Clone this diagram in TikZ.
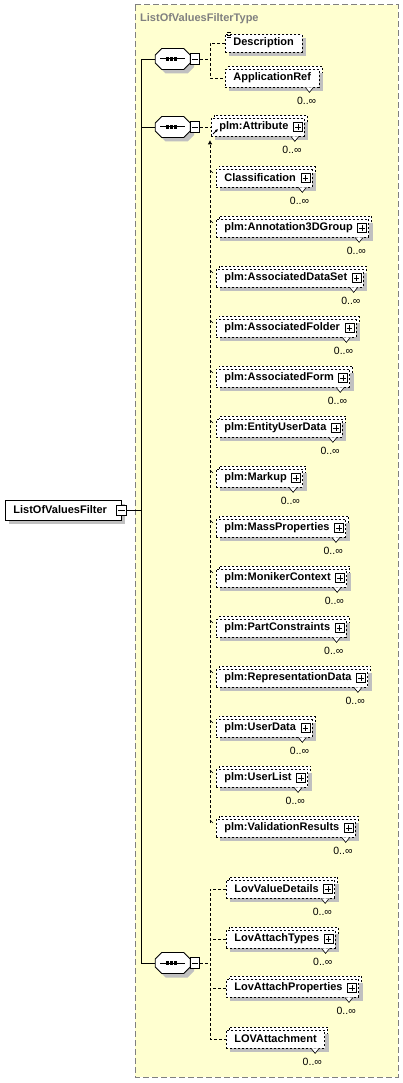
\documentclass[tikz,border=0pt]{standalone}
\usepackage{fontspec}
\setmainfont{Liberation Sans}
\usetikzlibrary{shadows,arrows.meta}
\definecolor{panelfill}{RGB}{255,255,208}
\definecolor{shadegray}{RGB}{192,192,192}
\definecolor{titlegray}{RGB}{128,128,128}
\definecolor{panelline}{RGB}{128,128,128}
\tikzset{
  elemfont/.style={font=\fontsize{11}{13}\selectfont\bfseries},
  shad/.style={drop shadow={shadow xshift=4pt,shadow yshift=-4pt,fill=shadegray,opacity=1,draw=none}},
  multi/.style={copy shadow={shadow xshift=3pt,shadow yshift=3pt}},
  elem/.style={elemfont,draw,fill=white,dash pattern=on 2pt off 2pt,line width=0.8pt,inner xsep=0pt,inner ysep=0pt,minimum height=18pt,anchor=west},
  pbox/.style={draw,solid,fill=white,line width=0.6pt,minimum size=9pt,inner sep=0pt},
  pline/.style={solid,line width=0.6pt},
  notch/.style={solid,line width=0.6pt,fill=white},
  mult/.style={font=\fontsize{10.5}{12}\selectfont,inner sep=0pt,anchor=east},
  conn/.style={dash pattern=on 3pt off 2pt,line width=0.8pt},
  bus/.style={line width=0.9pt},
  tick/.style={line width=0.6pt},
  seqanchor/.style={draw=none,minimum width=35pt,minimum height=21pt,inner sep=0pt,anchor=west},
  minusbox/.style={draw,solid,fill=white,line width=0.6pt,minimum width=9pt,minimum height=11pt,inner sep=0pt,anchor=west},
  panelst/.style={draw=panelline,fill=panelfill,dash pattern=on 6pt off 3pt,line width=1pt},
}
\newcommand\octapath{++(-17.5,-4) -- ++(6.5,-6.5) -- ++(22,0) -- ++(6.5,6.5) -- ++(0,8) -- ++(-6.5,6.5) -- ++(-22,0) -- ++(-6.5,-6.5) -- cycle}
\newcommand\plusof[1]{%
  \node[pbox] (#1p) at ([xshift=-7pt]#1.east) {};
  \draw[pline] ([xshift=2pt]#1p.west) -- ([xshift=-2pt]#1p.east) ([yshift=-2pt]#1p.north) -- ([yshift=2pt]#1p.south);}
\newcommand\multof[1]{%
  \draw[notch] ([xshift=-14pt]#1.south east) -- ([xshift=-10pt,yshift=-5pt]#1.south east) -- ([xshift=-6pt]#1.south east);
  \node[mult] at ([xshift=-3pt,yshift=-13pt]#1.south east) {0..∞};}
\newcommand\subst[3]{%
  \node[elem,multi,shad] (#1) at (216,#2) {\kern8pt#3\kern16pt};
  \plusof{#1}\multof{#1}
  \draw[tick] ([xshift=-6pt,yshift=8pt]#1.west) -- ([xshift=-3pt,yshift=5pt]#1.west);}
\newcommand\seqsym[2]{%
  \node[seqanchor] (#1) at (155,#2) {};
  \fill[shadegray] ([xshift=4pt,yshift=-4pt]#1.center) \octapath;
  \draw[fill=white,line width=0.8pt] (#1.center) \octapath;
  \node[minusbox] (#1m) at (#1.east) {};
  \draw[pline] ([xshift=2pt]#1m.west) -- ([xshift=-2pt]#1m.east);
  \draw[line width=1pt] ([xshift=5pt]#1.west) -- ([xshift=-5pt]#1.east);
  \foreach \dx in {-5,-1,3} \fill ([xshift=\dx pt]#1.center) +(-1.6,-1.6) rectangle +(1.6,1.6);}
\begin{document}
\begin{tikzpicture}[x=1pt,y=-1pt]
\useasboundingbox (0,0) rectangle (403,1083);
\fill[white] (0,0) rectangle (403,1083);
\path[panelst] (135,5) rectangle (398,1077);
\node[anchor=west,elemfont,text=titlegray,inner sep=0pt] (title) at (140,19) {ListOfValuesFilterType};
% root element
\node[elem,solid,shad,minimum height=20pt] (root) at (5,510) {\kern8pt ListOfValuesFilter\kern14pt};
\node[minusbox,anchor=center,minimum width=10pt,minimum height=10pt] (rootm) at (root.east) {};
\draw[pline] ([xshift=2pt]rootm.west) -- ([xshift=-2pt]rootm.east);
% sequences
\seqsym{sa}{59}
\seqsym{sb}{127}
\seqsym{sc}{963}
% sequence 1
\node[elem,shad] (desc) at (225,43) {\kern8pt Description\kern8pt};
\draw[pline] ([xshift=2pt,yshift=1pt]desc.north west) -- ++(4,0) ([xshift=2pt,yshift=-1.5pt]desc.north west) -- ++(4,0) ([xshift=2pt,yshift=-4pt]desc.north west) -- ++(4,0);
\node[elem,multi,shad] (appref) at (225,78) {\kern8pt ApplicationRef\kern8pt};
\multof{appref}
% sequence 2
\node[elem,multi,shad] (attr) at (211,127) {\kern8pt plm:Attribute\kern16pt};
\plusof{attr}\multof{attr}
\draw[solid,line width=0.8pt,-{Latex[length=3pt,width=3pt]}] ([xshift=2pt,yshift=-7pt]attr.west) -- ([xshift=7pt,yshift=-2pt]attr.west);
\subst{cls}{178}{Classification}
\subst{ann}{228}{plm:Annotation3DGroup}
\subst{ads}{278}{plm:AssociatedDataSet}
\subst{afo}{328}{plm:AssociatedFolder}
\subst{afr}{378}{plm:AssociatedForm}
\subst{eud}{428}{plm:EntityUserData}
\subst{mku}{478}{plm:Markup}
\subst{mpr}{528}{plm:MassProperties}
\subst{mon}{578}{plm:MonikerContext}
\subst{pco}{628}{plm:PartConstraints}
\subst{rep}{678}{plm:RepresentationData}
\subst{usd}{728}{plm:UserData}
\subst{usl}{778}{plm:UserList}
\subst{val}{828}{plm:ValidationResults}
% sequence 3
\node[elem,multi,shad] (lvd) at (226,889) {\kern8pt LovValueDetails\kern16pt};
\plusof{lvd}\multof{lvd}
\node[elem,multi,shad] (lat) at (226,939) {\kern8pt LovAttachTypes\kern16pt};
\plusof{lat}\multof{lat}
\node[elem,multi,shad] (lap) at (226,988) {\kern8pt LovAttachProperties\kern16pt};
\plusof{lap}\multof{lap}
\node[elem,multi,shad] (lam) at (226,1039) {\kern8pt LOVAttachment\kern8pt};
\multof{lam}
% connectors
\coordinate (k) at (141,0);
\coordinate (d) at (210,0);
\draw[bus] (rootm.east) -- (rootm.east -| k);
\draw[bus] (sa.west) -- (sa.west -| k) -- (sc.west -| k) -- (sc.west);
\draw[bus] (sb.west) -- (sb.west -| k);
\draw[conn] (sam.east) -- (sam.east -| d);
\draw[conn] (desc.west) -- (desc.west -| d) -- (appref.west -| d) -- (appref.west);
\draw[conn] (sbm.east) -- (attr.west);
\draw[conn,-{Triangle[length=4pt,width=4pt]}] ([yshift=5pt]val.west -| d) -- ([yshift=-4pt]attr.south -| d);
\draw[conn] (scm.east) -- (scm.east -| d);
\draw[conn] (lvd.west) -- (lvd.west -| d) -- (lam.west -| d) -- (lam.west);
\draw[conn] (lat.west) -- (lat.west -| d);
\draw[conn] (lap.west) -- (lap.west -| d);
\end{tikzpicture}
\end{document}
